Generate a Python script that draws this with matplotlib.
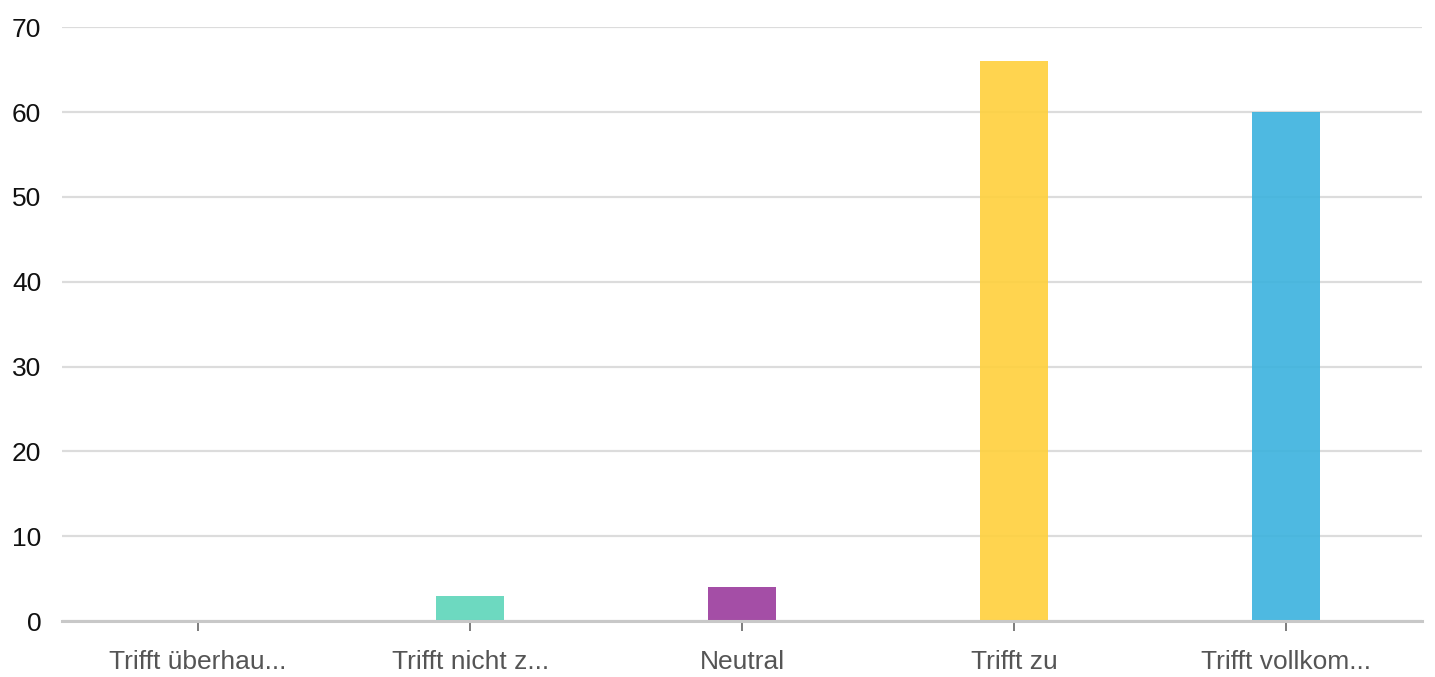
import matplotlib.pyplot as plt

# Survey answers and counts
categories = ["Trifft überhau...", "Trifft nicht z...", "Neutral", "Trifft zu", "Trifft vollkom..."]
counts = [0, 3, 4, 66, 60]
colors = ["#9e9e9e", "#5dd5ba", "#9a3b9c", "#ffd03c", "#3bb2de"]
y_ticks = [0, 10, 20, 30, 40, 50, 60, 70]

plt.rcParams["font.family"] = ["Liberation Sans", "DejaVu Sans"]

fig = plt.figure(figsize=(14.35, 6.77), dpi=100)
ax = fig.add_axes([0.0432, 0.0827, 0.948, 0.877])

x = range(len(categories))
ax.bar(x, counts, width=0.25, color=colors, alpha=0.9, zorder=2)

ax.set_xlim(-0.5, len(categories) - 0.5)
ax.set_ylim(0, 70)
ax.set_yticks(y_ticks)
ax.set_xticks(list(x))
ax.set_xticklabels(categories)

# Horizontal grid only
ax.yaxis.grid(True, color="#dcdcdc", linewidth=1.6, zorder=1)
ax.set_axisbelow(True)

for side in ["top", "right", "left"]:
    ax.spines[side].set_visible(False)
ax.spines["bottom"].set_color("#c8c8c8")
ax.spines["bottom"].set_linewidth(2.2)
ax.spines["bottom"].set_zorder(3)

ax.tick_params(axis="y", length=0, labelsize=19, labelcolor="#111111", pad=15)
ax.tick_params(axis="x", length=7, width=1.2, color="#666666", labelsize=19,
               labelcolor="#555555", pad=14)

plt.savefig("out.png", dpi=100)
